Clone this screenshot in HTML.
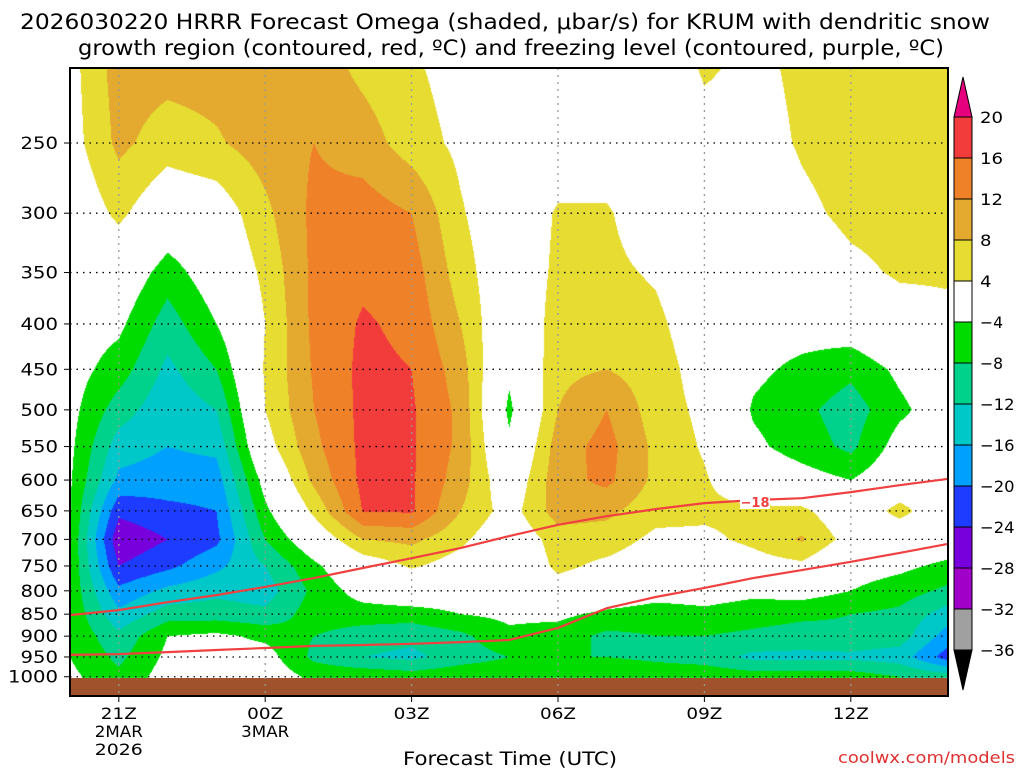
<!DOCTYPE html>
<html><head><meta charset="utf-8"><style>
body{margin:0;background:#fff;width:1024px;height:768px;overflow:hidden;font-family:"DejaVu Sans","Liberation Sans",sans-serif}
#wrap{position:relative;width:1024px;height:768px}
canvas,svg{position:absolute;left:0;top:0}
</style></head><body>
<div id="wrap">
<canvas id="cv" width="1024" height="768"></canvas>
<svg id="sv" width="1024" height="768"></svg>
</div>
<script>
const hours=["20Z","21Z","22Z","23Z","00Z","01Z","02Z","03Z","04Z","05Z","06Z","07Z","08Z","09Z","10Z","11Z","12Z","13Z","14Z"];
const levels=[200,250,300,350,400,450,500,550,600,650,700,750,800,850,900,950,1000];
const omega=[
[2.5,2,0,-1,-1.5,-2,-2.5,-3,-3.5,-3.8,-4.2,-4.5,-4.8,-4.8,-4.5,-4,-3],
[10,9,5,0,-3,-6,-10,-14,-17,-23,-27,-24,-19,-15,-11,-9,-7],
[10,6,0,-6,-10,-13,-15,-16,-18,-21,-24,-21,-15,-10,-4,-3,-2],
[10,7.5,1,-1,-4,-8,-12,-15,-18,-20,-21,-17,-13,-10,-3,-2,-1],
[10,10,7,5,4,4.5,4,2,-2,-5,-8,-12,-14,-11,-5,-2,-1],
[10,12,13,13,13,12.5,12,11,9,5,0,-5,-7,-6,-8,-9,-5],
[6.5,10,14,15,16.5,17,17,17,17,16.2,8,1,-2,-6,-10,-12,-5],
[4.5,6,12,14,15,16,16.5,16.5,16.5,16.5,9,4.5,0,-6,-11,-13,-6],
[2,3,4.5,6,8,10,11,11,10,8,5,2,-1,-4,-9,-10,-5],
[0,0,0,0,-1,-3,-5,-3,0,2,0,-1,-2,-3,-5,-8,-5],
[0,1,4.5,5,6,7,8,10,10.5,10,6,5,2,-3,-6,-8,-5],
[0,1,4.5,5,6,8,12,13.5,13,9,6,3,0,-5,-9,-8,-4],
[0,0,1,3.5,5,6,6,7,7,5.5,3,1,-2,-6,-8,-9,-5],
[5,2,0,0,1,2,3,3.5,4.5,5,3,0,-2,-5,-8,-10,-5],
[3,2,0,-1,-2,-3,-4.5,-3,0,5,5,2,-3,-6,-9,-13,-6],
[5,4.5,3,1,-2,-5,-7,-6,-2,5,8.5,3,-2,-7,-10,-13,-6],
[6,6,5,3,-1,-7,-10,-9,-4,0,2,-2,-4,-8,-9,-13,-6],
[6,6,5.5,4.5,2,-3,-5,-2,0,5.5,0,-3,-6,-9,-10,-14,-8],
[6,6,5,4.5,3,0,-1,0,0,0,-1,-5,-9,-14,-18,-22,-10]];
const dgzUpper=[852,841,824,809,792,774,754,735,716,694,674,659,647,637,632,629,619,608,598];
const dgzLower=[945,943,938,933,928,923,921,918,914,909,881,837,813,794,774,758,742,725,708];
const cbTicks=[20,16,12,8,4,-4,-8,-12,-16,-20,-24,-28,-32,-36];
const cbColors=["#f23c3c","#ef8228","#e4aa30","#e6dc32","#ffffff","#00dc00","#00d28c","#00c8c8","#00a0ff","#1e3cff","#7800dc","#a000c8","#a0a0a0"];
const yLabels=[250,300,350,400,450,500,550,600,650,700,750,800,850,900,950,1000];
const xTicks=[{h:1,l:["21Z","2MAR","2026"]},{h:4,l:["00Z","3MAR"]},{h:7,l:["03Z"]},{h:10,l:["06Z"]},{h:13,l:["09Z"]},{h:16,l:["12Z"]}];

const X0=70,X1=948,Y0=68,YG=678,YB=696;
const px=48.8;
function xOf(h){return X0+h*px;}
function yOf(p){return 143+385*Math.log(p/250);}
function pOf(y){return 250*Math.exp((y-143)/385);}
function colorFor(v){
 if(v>=20)return "#e6007e";
 if(v<-36)return "#000";
 if(v>=4){return cbColors[Math.min(3,Math.floor((20-v)/4))];}
 if(v>-4)return "#ffffff";
 const i=Math.floor((-4-v)/4); return cbColors[5+Math.min(7,i)];
}
function hex(c){if(c.length==4)c="#"+c[1]+c[1]+c[2]+c[2]+c[3]+c[3];return[parseInt(c.substr(1,2),16),parseInt(c.substr(3,2),16),parseInt(c.substr(5,2),16)];}
const lnL=levels.map(Math.log);
const cv=document.getElementById('cv'),ctx=cv.getContext('2d');
const W=X1-X0,H=YG-Y0;
const img=ctx.createImageData(W,H);
for(let j=0;j<H;j++){
 const lp=Math.log(pOf(Y0+j+0.5));
 let k=0;while(k<levels.length-2&&lp>lnL[k+1])k++;
 let fy=(lp-lnL[k])/(lnL[k+1]-lnL[k]);fy=Math.max(0,Math.min(1,fy));
 for(let i=0;i<W;i++){
  let t=(i+0.5)/px;let c=Math.min(hours.length-2,Math.floor(t));let fx=Math.max(0,Math.min(1,t-c));
  const v=(omega[c][k]*(1-fx)+omega[c+1][k]*fx)*(1-fy)+(omega[c][k+1]*(1-fx)+omega[c+1][k+1]*fx)*fy;
  const rgb=hex(colorFor(v));const o=(j*W+i)*4;
  img.data[o]=rgb[0];img.data[o+1]=rgb[1];img.data[o+2]=rgb[2];img.data[o+3]=255;
 }
}
ctx.fillStyle="#fff";ctx.fillRect(0,0,1024,768);
ctx.putImageData(img,X0,Y0);

const NS="http://www.w3.org/2000/svg",sv=document.getElementById('sv');
function el(tag,attrs,txt){const e=document.createElementNS(NS,tag);for(const k in attrs)e.setAttribute(k,attrs[k]);if(txt!=null)e.textContent=txt;sv.appendChild(e);return e;}
let g=el('rect',{x:X0,y:YG,width:W,height:YB-YG,fill:"#a0522d"});


yLabels.forEach(p=>{const y=yOf(p);
 let l=el('line',{x1:X0,x2:X1,y1:y,y2:y,stroke:"#000","stroke-width":1.3,"stroke-dasharray":"1.5 5"});
 
 
 let tk=el('line',{x1:X0-6,x2:X0,y1:y,y2:y,stroke:"#000"});
 
 
 const s=String(p);
 let t=el('text',{x:X0-12,y:y+6,"text-anchor":"end","font-size":17,fill:"#000",textLength:s.length*12.5,lengthAdjust:"spacingAndGlyphs"},s);
 
 
});
xTicks.forEach(d=>{const x=xOf(d.h);
 let l=el('line',{x1:x,x2:x,y1:Y0,y2:YB,stroke:"#999","stroke-width":1.3,"stroke-dasharray":"2 5"});
 
 
 let tk=el('line',{x1:x,x2:x,y1:YB,y2:YB+6,stroke:"#000"});
 
 
 d.l.forEach((s,i)=>{let t=el('text',{x:x,y:719+i*18,"text-anchor":"middle","font-size":16,fill:"#000",textLength:s.length*12,lengthAdjust:"spacingAndGlyphs"},s);
  
  });
});
function path(arr){return arr.map((p,i)=>(i?"L":"M")+xOf(i).toFixed(1)+","+yOf(p).toFixed(1)).join("");}
let l1=el('path',{d:path(dgzUpper),fill:"none",stroke:"#f04040","stroke-width":2.2});


let l2=el('path',{d:path(dgzLower),fill:"none",stroke:"#f04040","stroke-width":2.2});


let lb=el('rect',{x:740,y:495,width:30,height:14,fill:"#fff"});


let lt=el('text',{x:755,y:507,"text-anchor":"middle","font-size":13,fill:"#f04040","font-weight":"bold"},"−18");


let fr=el('rect',{x:X0,y:Y0,width:W,height:YB-Y0,fill:"none",stroke:"#000","stroke-width":2});


const CX=954,CW=18,CT=117,CS=41;
cbColors.forEach((c,i)=>{let r=el('rect',{x:CX,y:CT+i*CS,width:CW,height:CS,fill:c,stroke:"#000","stroke-width":1});
 
 });
let tu=el('polygon',{points:`${CX},${CT} ${CX+CW},${CT} ${CX+CW/2},${CT-40}`,fill:"#e6007e",stroke:"#000"});


const CB=CT+cbColors.length*CS;
let td=el('polygon',{points:`${CX},${CB} ${CX+CW},${CB} ${CX+CW/2},${CB+40}`,fill:"#000",stroke:"#000"});


cbTicks.forEach((v,i)=>{const s=(v<0?"−":"")+Math.abs(v);
 let t=el('text',{x:980,y:CT+i*CS+6,"font-size":16,fill:"#000",textLength:s.length*11.5,lengthAdjust:"spacingAndGlyphs"},s);
 
 });
let t1=el('text',{x:20,y:29,"font-size":21,fill:"#000",textLength:970,lengthAdjust:"spacingAndGlyphs"},"2026030220 HRRR Forecast Omega (shaded, μbar/s) for KRUM with dendritic snow");


let t2=el('text',{x:78,y:55,"font-size":21,fill:"#000",textLength:866,lengthAdjust:"spacingAndGlyphs"},"growth region (contoured, red, ºC) and freezing level (contoured, purple, ºC)");


let xt=el('text',{x:403,y:765,"font-size":19,fill:"#000",textLength:214,lengthAdjust:"spacingAndGlyphs"},"Forecast Time (UTC)");


let cr=el('text',{x:838,y:763,"font-size":16,fill:"#e03030",textLength:177,lengthAdjust:"spacingAndGlyphs"},"coolwx.com/models");


</script>
</body></html>
